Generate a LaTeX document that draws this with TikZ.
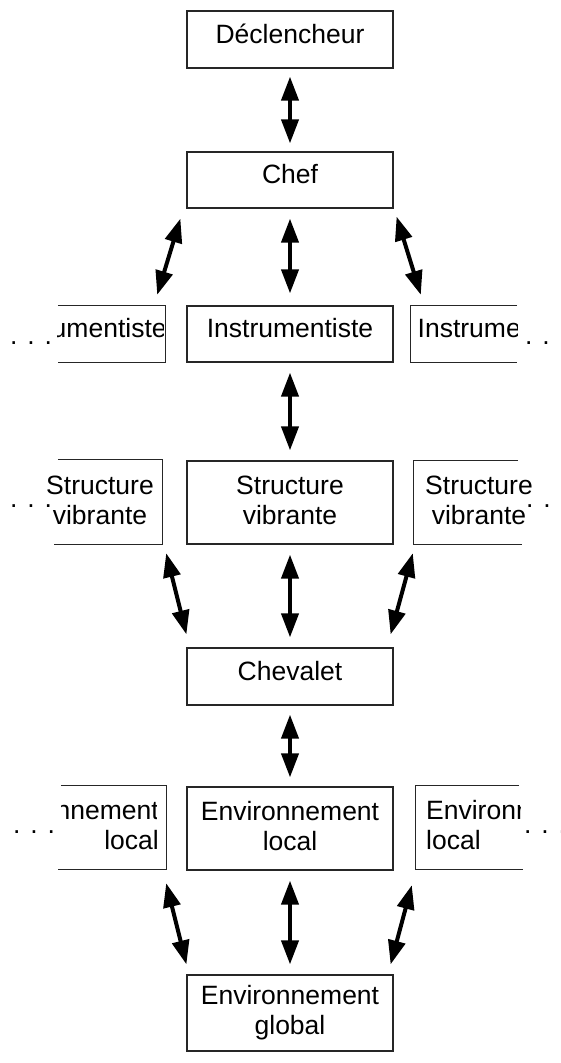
\documentclass[tikz,border=0pt]{standalone}
\usepackage{fontspec}
\setmainfont{Liberation Sans}
\usetikzlibrary{arrows.meta}
\begin{document}
\begin{tikzpicture}[x=1pt,y=-1pt,
  every node/.style={font=\fontsize{26.5}{30}\selectfont, inner sep=0pt},
  box/.style={draw=black!85, line width=1.2pt, minimum width=206pt, text width=200pt, align=center},
  txtone/.style={text height=19pt, text depth=12pt},
  txttwo/.style={text height=19pt, text depth=36pt},
  one/.style={box, txtone, minimum height=#1},
  two/.style={box, txttwo, minimum height=#1},
  edge/.style={draw=black!85, line width=1.2pt},
  arr/.style={line width=4pt, {Triangle[length=24pt,width=17pt]}-{Triangle[length=24pt,width=17pt]}},
  dotsnode/.style={anchor=base west}
]
\useasboundingbox (0,0) rectangle (561,1063);

% central column
\node[one=57pt] (dec) at (290,39.5) {Déclencheur};
\node[one=56pt] (chef) at (290,180) {Chef};
\node[one=56pt] (iC) at (290,334) {Instrumentiste};
\node[two=83pt] (sC) at (290,502.5) {Structure\\vibrante};
\node[one=57pt] (chev) at (290,676.5) {Chevalet};
\node[two=83pt] (eC) at (290,828.5) {Environnement\\local};
\node[two=76pt] (eG) at (290,1013) {Environnement\\global};

% Instrumentiste, left (cut)
\node[minimum width=107pt, minimum height=56pt] (iL) at (111.5,334) {};
\draw[edge] (iL.north west) -- (iL.north east) -- (iL.south east) -- (iL.south west);
\begin{scope}
  \clip (iL.north west) rectangle ([xshift=-2pt]iL.south east);
  \node[txtone, anchor=base west] (iLt) at (0,337.5) {Instrumentiste};
\end{scope}
\node[dotsnode] (dL1) at (10,344.5) {. . .\hspace*{-3pt}};

% Instrumentiste, right (cut)
\node[minimum width=106pt, minimum height=56pt] (iR) at (464,334) {};
\draw[edge] (iR.north east) -- (iR.north west) -- (iR.south west) -- (iR.south east);
\begin{scope}
  \clip (iR.north west) rectangle (iR.south east);
  \node[txtone, anchor=base west] (iRt) at (417.5,337.5) {Instrumentiste};
\end{scope}
\node[dotsnode] (dR1) at (525,344.5) {. . .\hspace*{-3pt}};

% Structure vibrante, left
\node[minimum width=104pt, minimum height=84pt] (sL) at (110,502) {};
\draw[edge] (sL.north west) -- (sL.north east) -- (sL.south east) -- ([xshift=-4pt]sL.south west);
\node[txttwo, text width=120pt, align=center] (sLt) at (100,502.5) {Structure\\vibrante};
\node[dotsnode] (dL2) at (10,507.5) {. . .\hspace*{-3pt}};

% Structure vibrante, right
\node[minimum width=104pt, minimum height=83pt] (sR) at (466,502.5) {};
\draw[edge] (sR.north east) -- (sR.north west) -- (sR.south west) -- ([xshift=4pt]sR.south east);
\node[txttwo, text width=120pt, align=center] (sRt) at (479,502.5) {Structure\\vibrante};
\node[dotsnode] (dR2) at (526,507.5) {. . .\hspace*{-3pt}};

% Environnement local, left (cut)
\node[minimum width=105pt, minimum height=83pt] (eL) at (113.5,827.5) {};
\draw[edge] (eL.north west) -- (eL.north east) -- (eL.south east) -- ([xshift=-3pt]eL.south west);
\begin{scope}
  \clip (61,786) rectangle (156,869);
  \node[txttwo, text width=180pt, align=right, anchor=east] (eLt) at (159,827.5) {Environnement\\local\hspace*{2pt}};
\end{scope}
\node[dotsnode] (dL3) at (13,833.5) {. . .\hspace*{-3pt}};

% Environnement local, right (cut)
\node[minimum width=103pt, minimum height=83pt] (eR) at (467.5,827.5) {};
\draw[edge] (eR.north east) -- (eR.north west) -- (eR.south west) -- ([xshift=4pt]eR.south east);
\begin{scope}
  \clip (eR.north west) rectangle ([xshift=1pt]eR.south east);
  \node[txttwo, text width=180pt, align=left, anchor=west] (eRt) at (426,827.5) {Environnement\\local};
\end{scope}
\node[dotsnode] (dR3) at (524,833.5) {. . .\hspace*{-3pt}};

% arrows
\draw[arr] ([shift={(0,8)}]dec.south) -- ([shift={(0,-8)}]chef.north);
\draw[arr] ([shift={(-6,10)}]chef.south west) -- ([shift={(-8,-11)}]iL.north east);
\draw[arr] ([shift={(0,10)}]chef.south) -- ([shift={(0,-12)}]iC.north);
\draw[arr] ([shift={(3,8)}]chef.south east) -- ([shift={(10,-11)}]iR.north west);
\draw[arr] ([shift={(0,10)}]iC.south) -- ([shift={(0,-10)}]sC.north);
\draw[arr] ([shift={(4,9)}]sL.south east) -- ([shift={(0,-13)}]chev.north west);
\draw[arr] ([shift={(0,10)}]sC.south) -- ([shift={(0,-10)}]chev.north);
\draw[arr] ([shift={(-1,9)}]sR.south west) -- ([shift={(-3,-13)}]chev.north east);
\draw[arr] ([shift={(0,9)}]chev.south) -- ([shift={(0,-9)}]eC.north);
\draw[arr] ([shift={(0,14)}]eL.south east) -- ([shift={(0,-10)}]eG.north west);
\draw[arr] ([shift={(0,10)}]eC.south) -- ([shift={(0,-10)}]eG.north);
\draw[arr] ([shift={(-4,16)}]eR.south west) -- ([shift={(-3,-10)}]eG.north east);
\end{tikzpicture}
\end{document}
